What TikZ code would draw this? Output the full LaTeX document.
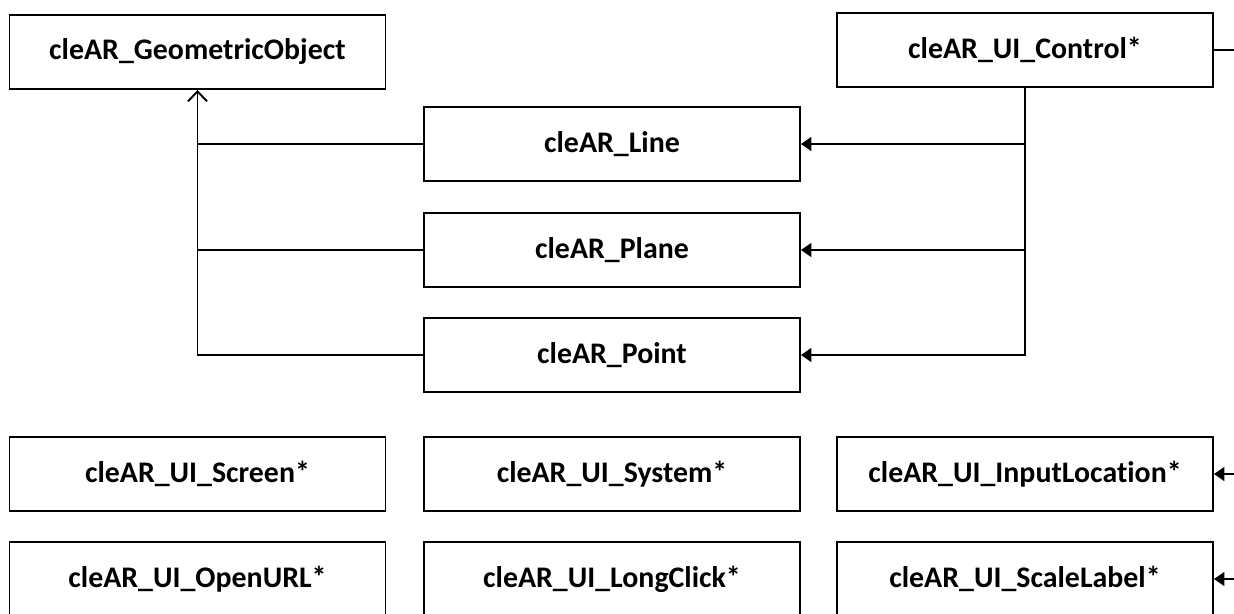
\documentclass[tikz,border=0pt]{standalone}
\usepackage{fontspec}
\setmainfont{Carlito}[Ligatures=NoCommon]
\usetikzlibrary{arrows.meta,positioning}

\tikzset{
    classbox/.style={draw, line width=1.1pt, minimum width=7.52cm,
        minimum height=1.48cm, inner sep=0pt, font=\bfseries\fontsize{17}{19}\selectfont},
    link/.style={line width=1.1pt},
    inherit/.style={link, -{Straight Barb[length=2mm,width=3.8mm]}},
    uses/.style={link, -{Triangle[length=2.1mm,width=2.8mm]}}
}

\begin{document}
\begin{tikzpicture}
    \useasboundingbox (0,0) rectangle (24.68,-12.26);
    \clip (0,0) rectangle (24.68,-12.26);
    \coordinate (edge) at (24.68,0);

    % top row
    \node[classbox] (geo) at (3.95,-1.04) {cleAR\_GeometricObject};
    \node[classbox] (ctrl) at (20.5,-1.0) {cleAR\_UI\_Control*};

    % geometric objects
    \node[classbox] (line) at (12.24,-2.88) {cleAR\_Line};
    \node[classbox] (plane) at (12.24,-5.0) {cleAR\_Plane};
    \node[classbox] (point) at (12.24,-7.1) {cleAR\_Point};

    % ui classes
    \node[classbox] (screen) at (3.95,-9.48) {cleAR\_UI\_Screen*};
    \node[classbox] (system) at (12.24,-9.48) {cleAR\_UI\_System*};
    \node[classbox] (inloc) at (20.5,-9.48) {cleAR\_UI\_InputLocation*};
    \node[classbox] (openurl) at (3.95,-11.58) {cleAR\_UI\_OpenURL*};
    \node[classbox] (longclick) at (12.24,-11.58) {cleAR\_UI\_LongClick*};
    \node[classbox] (scalelbl) at (20.5,-11.58) {cleAR\_UI\_ScaleLabel*};

    % inheritance
    \draw[inherit] (point.west) -| (geo.south);
    \draw[link] (line.west) -- (line.west -| geo.south);
    \draw[link] (plane.west) -- (plane.west -| geo.south);

    % control links
    \draw[uses] (ctrl.south) |- (point.east);
    \draw[uses] (line.east -| ctrl.south) -- (line.east);
    \draw[uses] (plane.east -| ctrl.south) -- (plane.east);

    % off-page links
    \draw[link] (ctrl.east) -- (ctrl.east -| edge);
    \draw[uses] (inloc.east -| edge) -- (inloc.east);
    \draw[uses] (scalelbl.east -| edge) -- (scalelbl.east);
\end{tikzpicture}
\end{document}
